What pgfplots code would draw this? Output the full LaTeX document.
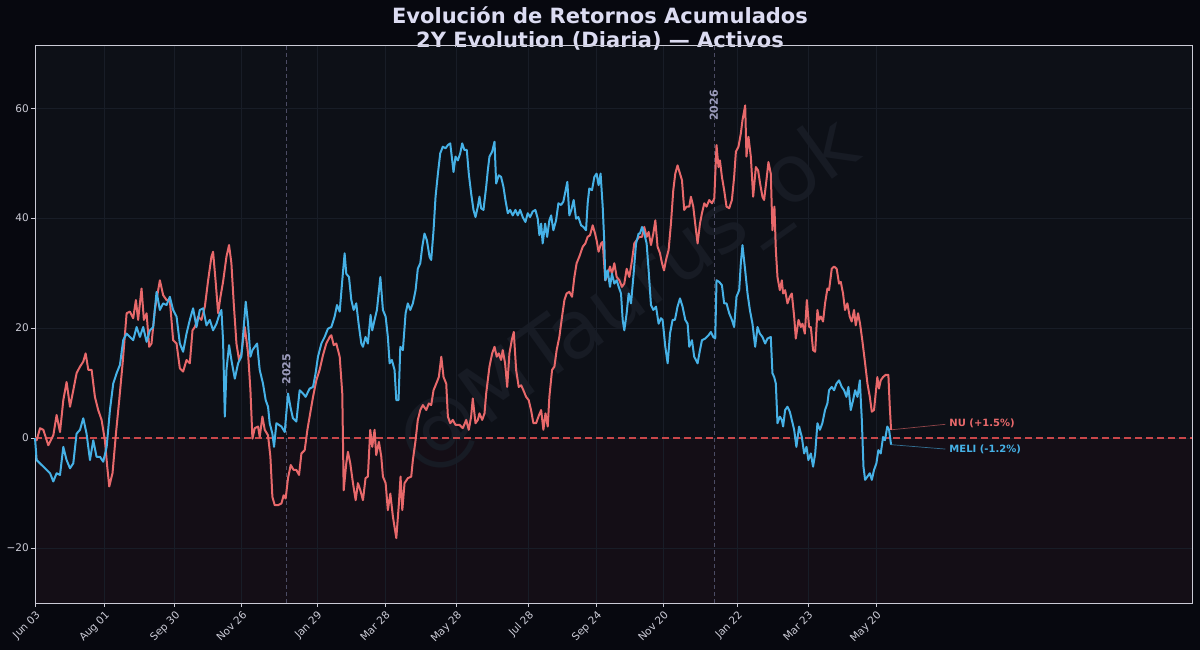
\documentclass[border=0pt]{standalone}
\usepackage{fontspec}
\setmainfont{DejaVu Sans}
\usepackage{pgfplots}
\pgfplotsset{compat=1.18}
\usepackage{pgfplotstable}
\definecolor{figbg}{HTML}{07080F}
\definecolor{axbg}{HTML}{0D1017}
\definecolor{negbg}{HTML}{140E16}
\definecolor{nured}{HTML}{E8696B}
\definecolor{meliblue}{HTML}{46B1E6}
\definecolor{titlecol}{HTML}{DCDCF2}
\definecolor{tickcol}{HTML}{CBCBD6}
\definecolor{gridcol}{HTML}{181D27}
\definecolor{yearcol}{HTML}{9C9CBC}
\definecolor{yearline}{HTML}{4C4C64}
\definecolor{zerocol}{HTML}{C9474A}
\definecolor{wmcol}{HTML}{171B24}

\pgfplotstableread{
d v
0 0
1.4 -4.0
7.1 -5.2
12.8 -6.4
15.6 -7.9
18.4 -6.4
21.3 -6.7
24.1 -1.6
26.9 -4.0
29.8 -5.5
32.6 -4.6
35.4 0.8
38.3 1.5
41.1 3.6
43.9 0.8
46.8 -4.0
49.6 -0.4
52.4 -3.4
55.3 -3.4
58.1 -4.3
61.0 -1.6
63.8 5.1
66.6 9.9
69.5 11.8
72.3 13.3
75.1 17.8
78.0 19.0
80.8 18.4
83.6 17.8
86.5 20.2
89.3 18.4
92.1 20.2
95.0 17.5
97.8 19.6
100.6 20.2
103.5 26.6
106.3 23.3
109.1 24.5
112.0 24.2
114.8 25.7
117.6 23.3
120.5 22.1
123.3 17.2
126.1 15.7
129.0 19.0
131.8 21.5
134.6 23.6
137.5 20.2
140.3 23.3
143.1 23.6
146.0 20.5
148.8 21.5
151.6 19.6
154.5 20.8
157.3 22.7
158.7 23.3
160.1 17.8
161.6 3.9
163.0 12.4
165.2 16.9
167.2 14.2
170.1 10.8
172.9 13.6
175.7 14.8
177.7 20.2
179.4 24.8
181.4 20.8
183.4 14.8
185.1 16.0
187.1 16.6
189.1 17.2
191.3 12.4
194.1 9.9
196.4 6.9
198.4 5.7
199.8 2.7
202.1 0.8
203.5 -1.6
205.5 2.7
207.7 2.4
209.8 2.1
212.6 1.1
215.4 8.1
217.7 5.4
219.6 3.6
222.5 3.0
225.3 8.7
228.2 8.1
230.4 7.5
233.8 9.0
236.7 9.3
238.9 11.8
240.9 14.8
243.8 17.2
246.6 18.4
249.4 19.9
252.3 20.2
255.1 22.1
257.1 24.2
259.4 23.0
261.6 28.7
263.6 33.6
265.0 29.9
267.3 29.3
269.3 25.1
271.3 23.3
273.5 24.5
275.5 20.8
277.8 17.2
279.2 16.6
281.4 18.4
283.4 17.2
285.7 22.4
287.1 19.6
289.1 21.5
291.1 23.3
294.0 29.3
296.2 23.3
298.5 22.1
300.4 18.4
301.9 13.6
303.8 14.2
306.1 12.4
307.6 6.9
309.5 6.9
311.0 16.6
313.2 16.0
315.5 22.7
317.4 24.5
319.5 23.3
321.7 24.5
324.0 26.9
325.9 30.8
328.0 31.8
329.7 34.8
331.6 37.2
333.6 36.0
335.9 33.0
337.3 32.4
339.3 37.8
341.0 43.9
343.0 48.1
345.0 51.8
347.2 53.0
349.5 52.7
351.5 53.3
353.5 53.6
355.2 50.5
356.3 48.4
358.0 51.2
360.0 50.5
362.0 51.8
363.7 53.6
365.6 52.4
367.6 52.4
369.3 48.1
371.3 44.5
373.3 41.5
375.0 40.2
377.0 42.1
378.4 43.9
379.8 41.8
381.8 41.5
384.1 45.7
385.5 48.7
386.9 51.2
389.2 52.1
391.2 53.9
392.6 46.3
394.8 47.8
396.8 47.5
398.8 45.7
400.5 43.3
402.5 40.9
404.5 41.5
406.7 40.5
409.0 41.5
411.0 40.5
413.0 41.5
415.2 40.2
417.5 39.3
419.5 40.9
421.5 40.2
423.7 41.2
426.0 41.5
428.0 39.9
429.4 36.9
430.9 39.0
432.2 35.4
434.3 39.0
436.0 36.6
437.9 39.6
439.4 40.5
441.3 37.8
443.6 39.6
445.6 42.7
447.9 42.4
449.8 43.0
451.5 44.8
453.2 46.6
454.9 40.5
456.6 41.5
458.6 43.3
460.6 39.9
462.6 40.2
464.9 38.7
466.9 38.4
469.1 37.8
470.5 42.7
471.9 45.4
474.2 45.1
476.2 47.5
478.1 48.1
479.8 46.0
481.5 48.1
483.3 42.1
484.7 35.4
485.5 28.7
487.5 30.5
489.5 27.5
491.2 29.9
493.2 28.1
495.2 28.7
496.9 27.5
498.9 26.3
500.3 21.5
501.7 19.6
503.7 22.7
505.4 26.3
507.4 24.5
509.4 29.3
511.7 35.4
513.9 37.2
515.0 37.2
516.8 38.4
518.7 37.2
520.7 35.4
522.4 30.5
524.4 24.2
526.4 23.3
528.7 23.9
530.9 20.8
532.9 21.8
534.3 21.5
536.6 16.6
538.6 13.6
540.6 19.0
542.8 21.5
544.8 21.5
547.0 23.9
549.1 25.4
551.3 23.9
553.6 21.5
555.6 20.8
557.0 16.6
559.3 17.8
561.2 14.8
564.1 13.6
566.1 16.0
567.8 17.8
570.6 18.1
573.4 18.7
575.4 19.3
577.4 18.4
579.1 18.1
580.2 28.7
582.5 28.4
584.8 27.8
586.7 24.5
588.7 24.5
591.0 22.7
593.3 21.5
595.2 20.2
597.2 25.7
599.5 26.9
600.9 31.8
602.3 35.1
604.6 30.5
606.6 26.3
608.6 23.3
610.8 20.8
613.1 16.6
615.1 20.2
617.1 19.0
619.3 18.4
621.6 17.2
623.6 18.1
626.4 18.4
627.8 11.8
629.3 11.1
630.7 9.9
632.1 2.7
634.1 3.9
635.8 3.3
636.9 2.1
638.6 5.1
640.6 5.7
642.6 4.8
644.3 3.3
646.3 1.5
648.2 -1.6
650.5 2.1
652.8 0.2
654.8 -2.8
656.8 -1.6
658.4 -4.0
660.5 -2.8
662.4 -5.2
664.2 -2.8
666.1 2.7
668.2 1.5
670.3 2.7
672.6 5.1
674.6 6.3
676.0 8.7
678.3 9.3
680.3 8.7
682.3 9.9
684.5 10.5
686.8 9.3
688.8 8.7
690.8 7.5
692.5 9.3
694.5 5.1
696.5 6.9
698.2 8.7
700.2 7.5
702.2 10.5
703.9 3.3
705.3 -5.2
706.7 -7.6
708.7 -7.0
710.7 -6.4
712.4 -7.6
714.3 -5.8
716.3 -4.6
718.0 -2.2
720.0 -2.8
722.0 0.2
723.6 -0.4
725.6 2.1
727.1 1.5
728.8 -1.2
}\melidata

\pgfplotstableread{
d v
0 0
1.4 -0.4
4.3 1.8
7.1 1.5
11.3 -1.3
15.6 0.5
18.4 4.2
21.3 1.1
24.1 6.9
26.9 10.2
29.8 5.7
32.6 8.7
35.4 11.8
38.3 13.0
41.1 13.9
43.1 15.4
45.4 12.4
48.2 12.4
51.0 7.5
53.8 5.1
56.7 3.3
59.5 -0.4
61.5 -5.2
63.2 -8.8
66.0 -6.4
68.9 0.8
71.7 6.9
74.6 13.6
78.0 22.7
80.8 23.0
83.6 21.8
85.9 25.1
87.8 21.5
90.7 27.2
92.7 21.5
95.0 22.7
97.2 16.6
99.2 17.2
102.0 23.3
106.3 28.7
109.1 26.0
112.0 25.1
114.8 25.1
117.6 17.8
120.5 17.2
123.3 12.7
126.1 12.1
129.0 14.2
131.8 13.6
134.1 19.6
136.1 20.2
138.9 22.1
141.7 21.5
144.6 23.9
147.4 28.7
150.2 33.0
151.6 33.9
153.7 28.7
155.9 22.7
157.9 25.7
160.1 28.4
163.0 33.0
165.2 35.1
167.2 31.8
169.2 24.5
171.5 17.2
173.7 14.2
175.7 15.4
178.6 20.2
181.4 15.4
183.4 8.7
185.1 -0.1
187.1 1.8
189.9 2.1
191.3 0.2
193.6 3.9
195.6 1.5
198.4 0.5
200.4 -3.4
202.1 -10.7
204.1 -12.2
206.9 -12.2
209.8 -11.9
211.7 -10.4
213.4 -11.0
215.4 -7.3
217.7 -4.9
220.2 -5.8
222.5 -5.8
224.8 -6.7
226.8 -2.8
229.6 -2.2
231.9 1.5
233.8 3.9
236.7 7.5
239.5 10.5
242.3 12.4
245.2 15.1
248.0 17.2
250.9 18.4
252.3 18.7
254.3 16.9
256.5 17.2
259.4 14.8
261.6 8.1
262.8 -9.5
265.0 -4.6
266.4 -2.5
268.4 -4.6
270.7 -8.2
273.0 -11.3
274.9 -8.2
277.0 -9.5
279.2 -11.3
281.4 -7.3
283.4 -7.0
285.4 1.5
287.1 -1.6
289.1 1.5
290.5 -3.1
292.8 -0.7
294.8 -3.4
296.2 -7.0
298.5 -8.2
300.4 -13.1
302.5 -10.1
304.7 -14.3
307.6 -18.2
309.8 -11.9
311.2 -7.0
312.7 -13.1
314.6 -8.2
317.4 -7.3
320.3 -7.0
321.7 -4.0
324.0 -0.4
325.9 3.3
328.0 5.1
330.2 6.0
333.1 5.1
335.3 6.3
337.3 6.0
339.3 8.7
341.6 9.9
343.8 11.1
345.9 14.8
347.8 11.1
350.1 9.9
351.5 3.9
353.5 2.7
355.7 3.3
358.0 2.4
361.4 2.4
364.2 1.8
367.1 3.3
369.3 1.5
371.3 3.9
372.7 7.2
375.0 2.7
377.0 3.3
378.4 4.5
380.7 3.3
382.7 4.5
384.1 8.1
386.9 13.0
389.2 15.4
391.2 16.6
393.1 14.8
394.8 15.4
396.8 14.2
398.2 16.0
400.2 13.6
402.0 9.3
403.9 15.4
405.9 17.8
407.6 19.3
409.6 12.4
411.8 9.3
413.9 9.6
415.8 8.7
418.1 7.5
420.3 6.9
422.3 5.1
424.3 2.7
426.6 2.7
428.6 3.9
430.9 5.1
432.8 1.5
434.6 4.5
436.5 2.1
437.9 7.5
440.2 12.4
442.2 13.0
444.1 16.0
446.4 18.4
448.7 22.1
450.7 25.1
452.6 26.3
454.9 26.6
457.2 25.7
459.2 29.3
461.1 31.8
463.4 33.0
466.3 34.8
468.5 35.4
470.5 36.6
472.5 36.9
474.8 38.7
476.8 37.2
478.1 36.0
479.8 33.9
481.9 35.4
483.3 35.7
485.5 28.7
487.5 29.6
489.5 31.2
491.2 29.9
493.2 31.8
495.2 29.3
497.5 28.7
499.7 27.5
501.7 28.1
503.7 30.8
506.0 29.3
508.3 32.4
510.2 35.4
512.2 36.0
514.5 36.6
516.8 36.6
518.7 38.4
520.7 36.6
522.4 37.5
524.4 35.1
526.4 37.2
528.1 39.6
530.0 34.8
532.1 33.6
533.8 31.8
535.5 30.5
537.2 32.4
539.4 34.2
541.4 39.0
543.4 45.1
545.1 48.1
547.0 49.6
549.1 48.1
550.8 46.9
552.7 41.5
554.7 42.1
557.0 42.1
558.4 43.9
560.4 42.1
562.7 37.8
564.1 35.4
566.1 39.0
567.8 40.9
569.8 42.7
571.7 42.1
574.0 43.3
576.3 42.7
578.3 43.6
580.2 53.3
581.9 49.3
583.1 50.5
584.8 47.5
586.7 45.1
588.7 42.1
591.0 41.8
593.3 43.3
595.2 47.5
596.7 52.1
598.9 53.0
600.9 55.4
602.3 57.8
604.6 60.5
605.7 51.2
607.4 54.8
609.4 51.2
611.4 43.9
613.7 49.3
615.6 48.7
617.3 46.3
619.3 43.9
620.7 43.3
622.7 46.9
624.4 50.2
626.4 48.1
627.8 37.8
629.5 42.1
630.7 34.2
632.1 29.3
634.1 26.9
635.8 28.7
636.9 26.3
638.6 26.9
640.6 24.5
642.6 25.7
644.3 26.3
646.3 22.1
647.7 18.1
650.0 21.5
652.0 20.2
653.4 20.8
655.4 19.0
657.1 25.1
659.0 20.2
660.5 20.2
662.4 16.0
664.2 15.7
666.1 23.3
667.5 21.5
669.0 22.1
670.9 21.2
672.6 24.5
674.6 27.2
676.0 26.9
678.3 30.8
680.3 31.2
682.5 30.8
684.5 28.1
686.0 28.4
687.9 26.3
689.6 23.3
691.6 24.5
693.6 22.1
695.3 21.2
697.3 23.3
698.7 20.5
700.7 22.7
702.4 20.8
704.3 17.8
706.7 13.6
708.7 9.9
710.7 7.5
712.4 4.8
714.3 5.1
715.7 8.1
717.1 11.1
718.5 9.0
720.0 10.5
722.0 11.1
724.2 11.5
726.5 11.5
727.7 5.7
728.8 1.5
}\nudata

\begin{document}
\begin{tikzpicture}
\fill[figbg] (0pt,0pt) rectangle (1200pt,650pt);
\useasboundingbox (0pt,0pt) rectangle (1200pt,650pt);
\fill[axbg] (35pt,47pt) rectangle (1192pt,605pt);
\fill[negbg] (35pt,47pt) rectangle (1192pt,211.9pt);
\node[rotate=35.6, text=wmcol, font=\fontsize{80}{80}\selectfont] at (630pt,352pt) {@MTaurus\_ok};
\node[align=center, text=titlecol, font=\bfseries\fontsize{21}{23.5}\selectfont] at (600pt,621.5pt)
  {Evolución de Retornos Acumulados\\2Y Evolution (Diaria) — Activos};
\begin{axis}[
  at={(35pt,47pt)}, anchor=south west,
  scale only axis, width=1157pt, height=558pt,
  xmin=0, xmax=985, ymin=-30, ymax=71.5,
  axis line style={draw=tickcol, line width=0.8pt},
  xtick={0,59,119,176,240,298,359,420,478,535,598,658,716},
  xticklabels={Jun 03,Aug 01,Sep 30,Nov 26,Jan 29,Mar 28,May 28,Jul 28,Sep 24,Nov 20,Jan 22,Mar 23,May 20},
  xticklabel style={rotate=45, anchor=north east, inner sep=2pt, font=\fontsize{10.5}{12}\selectfont, text=tickcol},
  ytick={-20,0,20,40,60},
  yticklabels={−20,0,20,40,60},
  yticklabel style={font=\fontsize{10.5}{12}\selectfont, text=tickcol, inner sep=2pt},
  tick pos=left,
  tick align=outside,
  major tick length=4pt,
  tick style={draw=tickcol, line width=0.8pt},
  grid=major,
  grid style={draw=gridcol, line width=0.6pt},
  clip=false,
]
\draw[yearline, line width=0.8pt, dash pattern=on 4pt off 3pt] (axis cs:214,-30) -- (axis cs:214,71.5);
\draw[yearline, line width=0.8pt, dash pattern=on 4pt off 3pt] (axis cs:578,-30) -- (axis cs:578,71.5);
\draw[zerocol, line width=1.2pt, dash pattern=on 7pt off 4pt] (axis cs:0,0) -- (axis cs:985,0);
\node[rotate=90, text=yearcol, font=\bfseries\fontsize{11}{13}\selectfont] at (axis cs:214,12.5) {2025};
\node[rotate=90, text=yearcol, font=\bfseries\fontsize{11}{13}\selectfont] at (axis cs:578,60.5) {2026};
\addplot[nured, line width=2pt, line join=round] table[x=d,y=v] {\nudata};
\addplot[meliblue, line width=2pt, line join=round] table[x=d,y=v] {\melidata};
\draw[nured, opacity=0.6, line width=0.7pt] (axis cs:728.8,1.5) -- (axis cs:775,2.5);
\draw[meliblue, opacity=0.6, line width=0.7pt] (axis cs:728.8,-1.2) -- (axis cs:775,-2.0);
\node[anchor=west, text=nured, font=\bfseries\fontsize{10}{12}\selectfont, inner sep=1pt] at (axis cs:777.5,2.6) {NU (+1.5\%)};
\node[anchor=west, text=meliblue, font=\bfseries\fontsize{10}{12}\selectfont, inner sep=1pt] at (axis cs:777.5,-2.0) {MELI (-1.2\%)};
\end{axis}
\end{tikzpicture}
\end{document}
